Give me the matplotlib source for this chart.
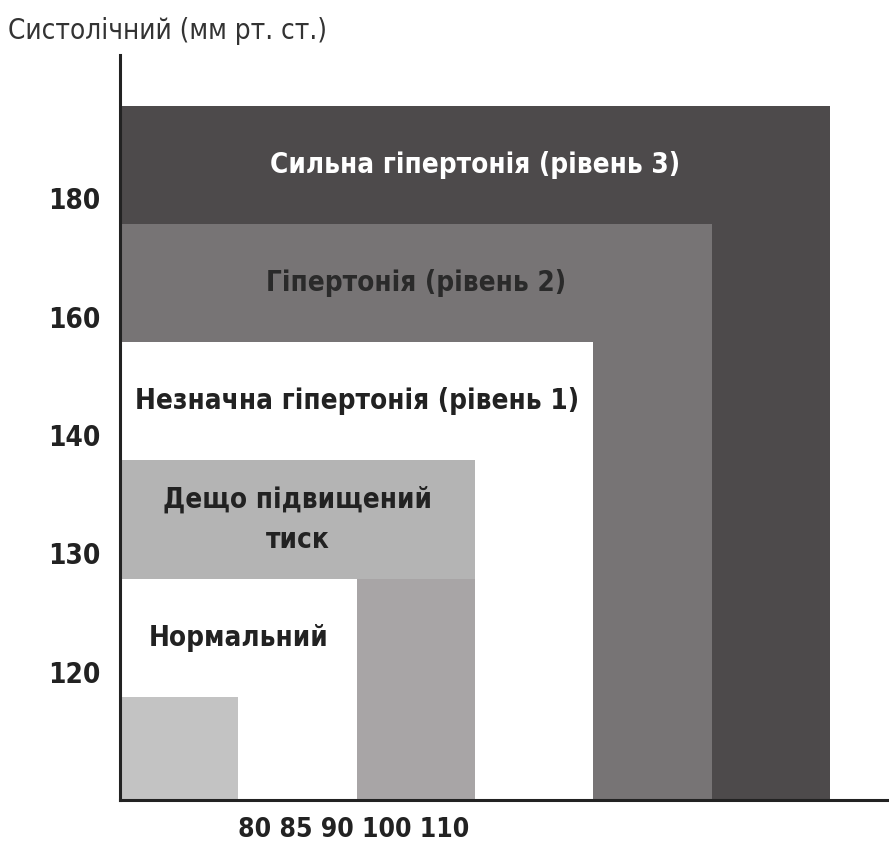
import matplotlib
matplotlib.use("Agg")
import matplotlib.pyplot as plt
from matplotlib.patches import Rectangle

# ---- data ----
systolic_ticks = ["120", "130", "140", "160", "180"]
diastolic_ticks = ["80", "85", "90", "100", "110"]
level_labels = ["", "Нормальний", "Дещо підвищений\nтиск",
                "Незначна гіпертонія (рівень 1)", "Гіпертонія (рівень 2)",
                "Сильна гіпертонія (рівень 3)"]
level_widths = [1, 2, 3, 4, 5, 6]      # band index of the right edge (diastolic)
level_tops = [0, 1, 2, 3, 4, 5]        # band index of the top edge (systolic)
level_colors = ["#c3c3c3", "#ffffff", "#b4b4b4", "#ffffff", "#777475", "#4d4a4b"]
level_text_colors = ["#222222", "#222222", "#222222", "#222222", "#2a2a2a", "#ffffff"]
ylabel = "Систолічний (мм рт. ст.)"

FONT = ["DejaVu Sans"]
plt.rcParams['font.family'] = FONT
plt.rcParams['font.stretch'] = 'condensed'

W, H = 889, 843
fig = plt.figure(figsize=(W / 100, H / 100), dpi=100)
ax = fig.add_axes([120 / W, 43 / H, 769 / W, 745 / H])
unit = 118.3
ax.set_xlim(0, 769 / unit)
ybot = -103 / unit
ax.set_ylim(ybot, ybot + 745 / unit)

# nested rectangles, largest first
for i in reversed(range(len(level_widths))):
    ax.add_patch(Rectangle((0, ybot), level_widths[i], level_tops[i] - ybot,
                           facecolor=level_colors[i], edgecolor="none", zorder=1))
    # slightly darker vertical part of "slightly elevated" band
    if i == 2:
        ax.add_patch(Rectangle((level_widths[1], ybot), level_widths[2] - level_widths[1],
                               level_tops[1] - ybot, facecolor="#a8a5a6",
                               edgecolor="none", zorder=1))

for i in range(1, len(level_widths)):
    ax.text(level_widths[i] / 2, level_tops[i] - 0.5, level_labels[i],
            ha="center", va="center", fontsize=20, fontweight="bold",
            fontstretch="condensed",
            color=level_text_colors[i], linespacing=1.55, zorder=3)

# axes styling
for s in ["top", "right"]:
    ax.spines[s].set_visible(False)
for s in ["left", "bottom"]:
    ax.spines[s].set_linewidth(2.2)
    ax.spines[s].set_color("#222222")
    ax.spines[s].set_zorder(4)

ax.set_yticks([t + 0.215 for t in level_tops[:len(systolic_ticks)]])
ax.set_yticklabels(systolic_ticks, fontsize=20, fontweight="bold", color="#222222",
                   fontstretch="condensed")
ax.tick_params(axis="y", length=0, pad=14)

ax.set_xticks([(354 - 120) / unit])
ax.set_xticklabels([" ".join(diastolic_ticks)], fontsize=19, fontweight="bold",
                   color="#222222", fontstretch="condensed")
ax.tick_params(axis="x", length=0, pad=12)

fig.text(8 / W, 1 - 31 / H, ylabel, ha="left", va="center", fontsize=20,
         color="#333333", fontstretch="condensed")

fig.savefig("out.png", dpi=100)
